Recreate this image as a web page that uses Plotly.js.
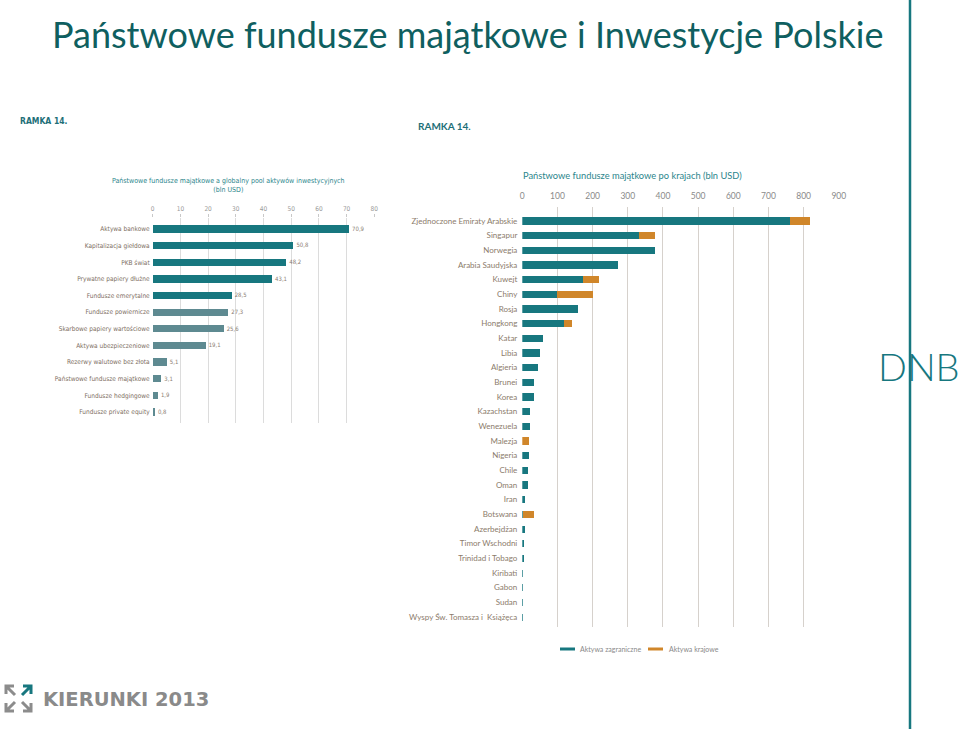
<!DOCTYPE html>
<html>
<head>
<meta charset="utf-8">
<script src="https://cdn.plot.ly/plotly-3.0.1.min.js"></script>
<style>html,body{margin:0;padding:0;background:#fff;}#chart{width:960px;height:729px;}</style>
</head>
<body>
<div id="chart"></div>
<script>
// ---- Data: left chart ----
var poolCategories = ['Aktywa bankowe','Kapitalizacja giełdowa','PKB świat','Prywatne papiery dłużne','Fundusze emerytalne','Fundusze powiernicze','Skarbowe papiery wartościowe','Aktywa ubezpieczeniowe','Rezerwy walutowe bez złota','Państwowe fundusze majątkowe','Fundusze hedgingowe','Fundusze private equity'];
var poolValues = [70.9, 50.8, 48.2, 43.1, 28.5, 27.3, 25.6, 19.1, 5.1, 3.1, 1.9, 0.8];
var poolTicks = [0,10,20,30,40,50,60,70,80];

// ---- Data: right chart ----
var countries = ['Zjednoczone Emiraty Arabskie','Singapur','Norwegia','Arabia Saudyjska','Kuwejt','Chiny','Rosja','Hongkong','Katar','Libia','Algieria','Brunei','Korea','Kazachstan','Wenezuela','Malezja','Nigeria','Chile','Oman','Iran','Botswana','Azerbejdżan','Timor Wschodni','Trinidad i Tobago','Kiribati','Gabon','Sudan','Wyspy Św. Tomasza i  Książęca'];
var foreignAssets  = [761, 331, 377, 271, 172, 100, 159, 119, 60, 50, 45, 34, 32, 23, 23, 0, 18, 15, 15, 9, 2, 7, 5, 4, 3, 3, 2, 1];
var domesticAssets = [57, 46, 0, 0, 45, 100, 0, 23, 0, 0, 0, 0, 0, 0, 0, 18, 0, 0, 0, 0, 30, 0, 0, 0, 0, 0, 0, 0];
var countryTicks = [0,100,200,300,400,500,600,700,800,900];
var seriesNames = ['Aktywa zagraniczne','Aktywa krajowe'];

// ---- helpers (pixel -> paper) ----
var W = 960, H = 729;
function px(x){ return x / W; }
function py(y){ return 1 - y / H; }

var TEAL = '#17777f', GREYTEAL = '#5e8a91', ORANGE = '#d0862a';
var narrow = 'Liberation Sans Narrow, DejaVu Sans Condensed, Arial Narrow, sans-serif';
var lato = 'Lato, Open Sans, sans-serif';

var poolColors = poolValues.map(function(v, i){ return i < 5 ? TEAL : GREYTEAL; });
var poolText = poolValues.map(function(v){ return v.toFixed(1).replace('.', ','); });

var traces = [
  {
    type: 'bar', orientation: 'h', xaxis: 'x', yaxis: 'y',
    y: poolCategories, x: poolValues, width: 0.44,
    marker: {color: poolColors},
    text: poolText, textposition: 'outside', cliponaxis: false,
    textfont: {family: narrow, size: 6.5, color: '#8a7d72'},
    showlegend: false, hoverinfo: 'x+y'
  },
  {
    type: 'bar', orientation: 'h', xaxis: 'x2', yaxis: 'y2',
    name: seriesNames[0], y: countries, x: foreignAssets, width: 0.48,
    marker: {color: TEAL}, showlegend: false
  },
  {
    type: 'bar', orientation: 'h', xaxis: 'x2', yaxis: 'y2',
    name: seriesNames[1], y: countries, x: domesticAssets, width: 0.48,
    marker: {color: ORANGE}, showlegend: false
  }
];

var layout = {
  width: W, height: H,
  margin: {l: 0, r: 0, t: 0, b: 0},
  paper_bgcolor: '#ffffff', plot_bgcolor: 'rgba(0,0,0,0)',
  barmode: 'stack', bargap: 0,
  showlegend: false,
  title: {
    text: 'Państwowe fundusze majątkowe i Inwestycje Polskie',
    x: px(52), xanchor: 'left', y: py(35), yanchor: 'middle',
    font: {family: lato, size: 36, color: '#0f5f60'}
  },
  xaxis: {
    domain: [px(152.7), px(374.3)], range: [0, 80], anchor: 'y', side: 'top',
    tickvals: poolTicks, showgrid: true, gridcolor: '#dcdcdc', gridwidth: 1,
    zeroline: false, showline: false,
    ticks: 'outside', ticklen: 3, tickcolor: '#c8c8c8',
    tickfont: {family: narrow, size: 6.5, color: '#9a9a9a'}, fixedrange: true
  },
  yaxis: {
    domain: [py(423), py(218)], type: 'category', range: [11.66, -0.66], anchor: 'x',
    showgrid: false, zeroline: false, showline: false, ticks: '', ticklabelstandoff: 2,
    tickfont: {family: narrow, size: 6.5, color: '#7d6e62'}, automargin: false, fixedrange: true
  },
  xaxis2: {
    domain: [px(522.3), px(838.8)], range: [0, 900], anchor: 'y2', side: 'top',
    tickvals: countryTicks, showgrid: true, gridcolor: '#d6d1cc', gridwidth: 1,
    zeroline: false, showline: false, ticks: '', ticklabelstandoff: 5,
    tickfont: {family: lato, size: 8.5, color: '#8a8a8a'}, fixedrange: true
  },
  yaxis2: {
    domain: [py(626.7), py(206.7)], type: 'category', range: [27.66, -0.975], anchor: 'x2',
    showgrid: false, zeroline: false, showline: false, ticks: '', ticklabelstandoff: 4,
    tickfont: {family: lato, size: 8, color: '#8b7b6b'}, automargin: false, fixedrange: true
  },
  shapes: [
    // slide divider line
    {type: 'line', xref: 'paper', yref: 'paper', x0: px(910), x1: px(910), y0: 0, y1: 1,
     line: {color: '#17777f', width: 2.5}},
    // legend swatches
    {type: 'line', xref: 'paper', yref: 'paper', x0: px(560), x1: px(575), y0: py(649), y1: py(649),
     line: {color: TEAL, width: 3}},
    {type: 'line', xref: 'paper', yref: 'paper', x0: px(648), x1: px(663), y0: py(649), y1: py(649),
     line: {color: ORANGE, width: 3}}
  ],
  annotations: [
    {text: '<b>RAMKA 14.</b>', xref: 'paper', yref: 'paper', x: px(18), y: py(121), xanchor: 'left', yanchor: 'middle',
     showarrow: false, font: {family: narrow, size: 8.5, color: '#1e6f78'}},
    {text: '<b>RAMKA 14.</b>', xref: 'paper', yref: 'paper', x: px(416), y: py(126), xanchor: 'left', yanchor: 'middle',
     showarrow: false, font: {family: lato, size: 10, color: '#1e6f78'}},
    {text: 'Państwowe fundusze majątkowe a globalny pool aktywów inwestycyjnych<br>(bln USD)',
     xref: 'paper', yref: 'paper', x: px(228), y: py(186), xanchor: 'center', yanchor: 'middle', align: 'center',
     showarrow: false, font: {family: narrow, size: 7, color: '#2b858b'}},
    {text: 'Państwowe fundusze majątkowe po krajach (bln USD)', xref: 'paper', yref: 'paper',
     x: px(521), y: py(176), xanchor: 'left', yanchor: 'middle',
     showarrow: false, font: {family: lato, size: 9.3, color: '#2b858b'}},
    {text: seriesNames[0], xref: 'paper', yref: 'paper', x: px(578), y: py(649), xanchor: 'left', yanchor: 'middle',
     showarrow: false, font: {family: lato, size: 7, color: '#8a8a8a'}},
    {text: seriesNames[1], xref: 'paper', yref: 'paper', x: px(667), y: py(649), xanchor: 'left', yanchor: 'middle',
     showarrow: false, font: {family: lato, size: 7, color: '#8a8a8a'}},
    {text: 'DNB', xref: 'paper', yref: 'paper', x: px(919), y: py(366), xanchor: 'center', yanchor: 'middle',
     showarrow: false, font: {family: 'Lato, sans-serif', size: 38, color: '#17777f', weight: 300}},
    {text: 'KIERUNKI 2013', xref: 'paper', yref: 'paper', x: px(41), y: py(699), xanchor: 'left', yanchor: 'middle',
     showarrow: false, font: {family: 'DejaVu Sans, sans-serif', size: 19.5, color: '#8a8a8a', weight: 600}}
  ]
};

// KIERUNKI logo arrows
function arrowPath(cx, cy, dx, dy){
  var s = 8;
  return 'M' + px(cx) + ',' + py(cy + dy*s) + ' L' + px(cx) + ',' + py(cy) + ' L' + px(cx + dx*s) + ',' + py(cy) +
         ' M' + px(cx) + ',' + py(cy) + ' L' + px(cx + dx*9) + ',' + py(cy + dy*9);
}
var arrows = [[6,686,1,1,'#8c8c8c'],[31,686,-1,1,'#17777f'],[6,711,1,-1,'#8c8c8c'],[31,711,-1,-1,'#8c8c8c']];
arrows.forEach(function(a){
  layout.shapes.push({type: 'path', xref: 'paper', yref: 'paper', path: arrowPath(a[0], a[1], a[2], a[3]),
    line: {color: a[4], width: 3}});
});

Plotly.newPlot('chart', traces, layout, {displayModeBar: false, staticPlot: true});
</script>
</body>
</html>
